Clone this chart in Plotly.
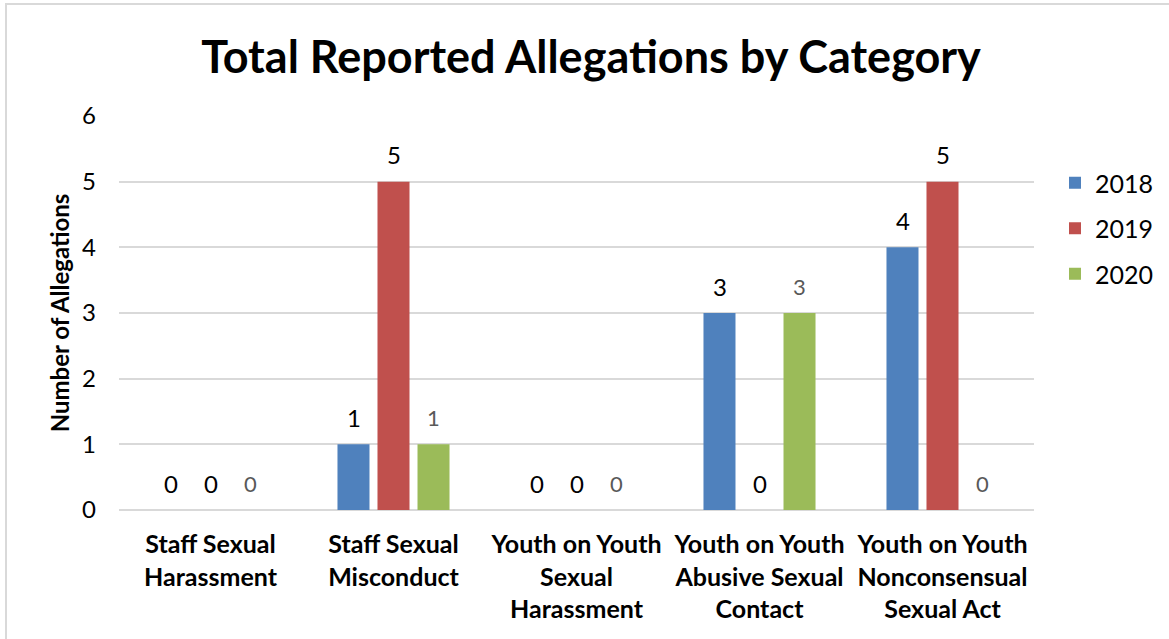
import plotly.graph_objects as go

categories = [
    "Staff Sexual<br>Harassment",
    "Staff Sexual<br>Misconduct",
    "Youth on Youth<br>Sexual<br>Harassment",
    "Youth on Youth<br>Abusive Sexual<br>Contact",
    "Youth on Youth<br>Nonconsensual<br>Sexual Act",
]
years = ["2018", "2019", "2020"]
v2018 = [0, 1, 0, 3, 4]
v2019 = [0, 5, 0, 0, 5]
v2020 = [0, 1, 0, 3, 0]
y_ticks = [0, 1, 2, 3, 4, 5, 6]

colors = ["#4f81bd", "#c0504d", "#9bbb59"]
label_colors = ["#000000", "#000000", "#595959"]
label_sizes = [24, 24, 22]
label_xshift = [-40, 0, 40]

FONT = "Lato, Carlito, Calibri, sans-serif"

fig = go.Figure()
for name, vals, c in zip(years, [v2018, v2019, v2020], colors):
    fig.add_trace(go.Bar(
        name=name, x=categories, y=vals,
        marker=dict(color=c, line=dict(width=0)),
        legendgroup=name, hoverinfo="x+y+name",
    ))

# data labels
for vals, lc, ls, xs in zip([v2018, v2019, v2020], label_colors, label_sizes, label_xshift):
    for cat, v in zip(categories, vals):
        fig.add_annotation(x=cat, y=v, xref="x", yref="y", text=str(v),
                           showarrow=False, xshift=xs, yshift=27,
                           xanchor="center", yanchor="middle",
                           font=dict(family=FONT, size=ls, color=lc))

W, H = 1169, 639
L, R, T, B = 119, 135, 116, 129
pw, ph = W - L - R, H - T - B

fig.update_layout(
    width=W, height=H,
    margin=dict(l=L, r=R, t=T, b=B, autoexpand=False),
    paper_bgcolor="white", plot_bgcolor="white",
    barmode="group", bargap=0.344, bargroupgap=0.2,
    font=dict(family=FONT, color="#000000"),
    title=dict(text="<b>Total Reported Allegations by Category</b>",
               font=dict(family=FONT, size=45, color="#000000"),
               x=591 / W, xanchor="center", xref="container",
               y=1 - 57 / H, yanchor="middle", yref="container"),
    legend=dict(x=1055 / W, xref="container", y=1 - 160 / H, yref="container",
                xanchor="left", yanchor="top",
                font=dict(family=FONT, size=25, color="#000000"),
                tracegroupgap=10, traceorder="grouped", itemwidth=30),
    xaxis=dict(tickfont=dict(family=FONT, size=25, color="#000000"),
               showgrid=False, showline=False, ticks="", automargin=False,
               ticklabelstandoff=17,
               tickprefix="<b>", ticksuffix="</b>"),
    yaxis=dict(range=[0, 6], tickvals=y_ticks, ticktext=[str(t) for t in y_ticks],
               tickfont=dict(family=FONT, size=24, color="#000000"),
               showgrid=True, gridcolor="#d9d9d9", gridwidth=1.5,
               zeroline=True, zerolinecolor="#d9d9d9", zerolinewidth=1.5,
               showline=False, ticks="", ticklen=0, automargin=False,
               ticklabelstandoff=22,
               title=dict(text="<b>Number of Allegations</b>",
                          font=dict(family=FONT, size=24, color="#000000"),
                          standoff=5)),
)

# outer chart border (light grey frame)
fig.add_shape(type="rect", xref="paper", yref="paper",
              x0=(6 - L) / pw, x1=(1200 - L) / pw,
              y0=-(700 - (T + ph)) / ph,
              y1=(T + ph - 4) / ph,
              line=dict(color="#d9d9d9", width=2), fillcolor="rgba(0,0,0,0)", layer="below")

fig.write_html("out.html", config={"displayModeBar": False},
               post_script="document.body.style.margin='0';document.body.style.padding='0';")
